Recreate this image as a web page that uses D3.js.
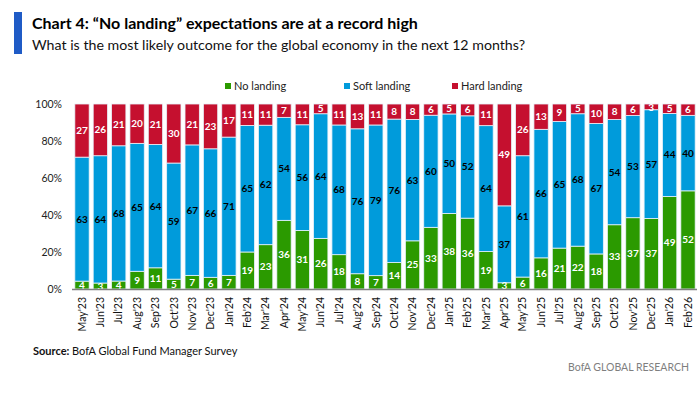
<!DOCTYPE html>
<html>
<head>
<meta charset="utf-8">
<script src="https://cdn.jsdelivr.net/npm/d3@7"></script>
<style>
  body { margin: 0; background: #fff; }
  svg { display: block; font-family: Lato, "Open Sans", sans-serif; }
</style>
</head>
<body>
<svg id="chart" width="700" height="394"></svg>
<script>
// survey months
const months = ["May'23","Jun'23","Jul'23","Aug'23","Sep'23","Oct'23","Nov'23","Dec'23",
  "Jan'24","Feb'24","Mar'24","Apr'24","May'24","Jun'24","Jul'24","Aug'24","Sep'24","Oct'24","Nov'24","Dec'24",
  "Jan'25","Feb'25","Mar'25","Apr'25","May'25","Jun'25","Jul'25","Aug'25","Sep'25","Oct'25","Nov'25","Dec'25",
  "Jan'26","Feb'26"];

const noLanding = [4,3,4,9,11,5,7,6, 7,19,23,36,31,26,18,8,7,14,25,33, 38,36,19,3,6,16,21,22,18,33,37,37, 49,52];
const softLanding = [63,64,68,65,64,59,67,66, 71,65,62,54,56,64,68,76,79,76,63,60, 50,52,64,37,61,66,65,68,67,54,53,57, 44,40];
const hardLanding = [27,26,21,20,21,30,21,23, 17,11,11,7,11,5,11,13,11,8,8,6, 5,6,11,49,26,13,9,5,10,8,6,3, 5,6];

const seriesNames = ["No landing", "Soft landing", "Hard landing"];
const seriesKeys = ["no", "soft", "hard"];
const colors = ["#2b9a00", "#009bdb", "#c5102f"];
const labelColors = ["#fff", "#000", "#fff"];
const yTicks = [0, 0.2, 0.4, 0.6, 0.8, 1];

const svg = d3.select("#chart");

// header
svg.append("rect").attr("x", 14).attr("y", 12).attr("width", 8).attr("height", 42).attr("fill", "#1f5bc6");
svg.append("text").attr("x", 32).attr("y", 29)
  .attr("font-size", 16).attr("font-weight", 700).attr("fill", "#000")
  .text("Chart 4: \u201cNo landing\u201d expectations are at a record high");
svg.append("text").attr("x", 32).attr("y", 50)
  .attr("font-size", 14.2).attr("fill", "#111")
  .text("What is the most likely outcome for the global economy in the next 12 months?");

// table rows for stacking
const rows = months.map((m, i) => ({ month: m, no: noLanding[i], soft: softLanding[i], hard: hardLanding[i] }));
const stacked = d3.stack().keys(seriesKeys).offset(d3.stackOffsetExpand)(rows);

const x = d3.scaleBand().domain(months).range([73, 697]).paddingInner(0.22).paddingOuter(0.1);
const y = d3.scaleLinear().domain([0, 1]).range([289, 104]);

// y axis labels
svg.append("g").selectAll("text").data(yTicks).join("text")
  .attr("x", 62).attr("y", d => y(d)).attr("dy", "0.35em")
  .attr("text-anchor", "end").attr("font-size", 10.5).attr("fill", "#222")
  .text(d => d3.format(".0%")(d));

// bars
const layer = svg.append("g").selectAll("g").data(stacked).join("g")
  .attr("fill", (d, i) => colors[i]);

layer.selectAll("rect").data(d => d).join("rect")
  .attr("x", d => x(d.data.month))
  .attr("width", x.bandwidth())
  .attr("y", d => y(d[1]))
  .attr("height", d => y(d[0]) - y(d[1]))
  .attr("stroke", "#e8f2fa").attr("stroke-width", 0.8);

// value labels
svg.append("g").selectAll("g").data(stacked).join("g")
  .each(function(s, si) {
    d3.select(this).selectAll("text").data(s).join("text")
      .attr("x", d => x(d.data.month) + x.bandwidth() / 2)
      .attr("y", d => Math.max(y((d[0] + d[1]) / 2), 107))
      .attr("dy", "0.35em")
      .attr("text-anchor", "middle")
      .attr("font-size", 10).attr("font-weight", 700)
      .attr("fill", labelColors[si])
      .text(d => d.data[s.key]);
  });

// x axis
const xAxis = svg.append("g").attr("transform", "translate(0,289)")
  .call(d3.axisBottom(x).tickSize(0).tickPadding(0));
xAxis.select(".domain").attr("stroke", "#7f7f7f").attr("stroke-width", 1.5)
  .attr("d", "M72,0.5H697");
xAxis.selectAll("text")
  .attr("transform", "rotate(-90)")
  .attr("text-anchor", "end")
  .attr("x", -8).attr("y", 0).attr("dy", "0.35em")
  .attr("font-family", "Lato, 'Open Sans', sans-serif")
  .attr("font-size", 10.5).attr("fill", "#111");

// legend
const legendX = [225, 344, 452];
const legend = svg.append("g").selectAll("g").data(seriesNames).join("g")
  .attr("transform", (d, i) => `translate(${legendX[i]},86)`);
legend.append("rect").attr("x", 0).attr("y", -3).attr("width", 6).attr("height", 6)
  .attr("fill", (d, i) => colors[i]);
legend.append("text").attr("x", 9).attr("dy", "0.35em")
  .attr("font-size", 11).attr("fill", "#222").text(d => d);

// footer
const src = svg.append("text").attr("x", 33).attr("y", 355).attr("font-size", 11).attr("fill", "#111");
src.append("tspan").attr("font-weight", 700).text("Source: ");
src.append("tspan").text("BofA Global Fund Manager Survey");
svg.append("text").attr("x", 689).attr("y", 371).attr("text-anchor", "end")
  .attr("font-size", 10.5).attr("fill", "#7f7f7f").text("BofA GLOBAL RESEARCH");
</script>
</body>
</html>
